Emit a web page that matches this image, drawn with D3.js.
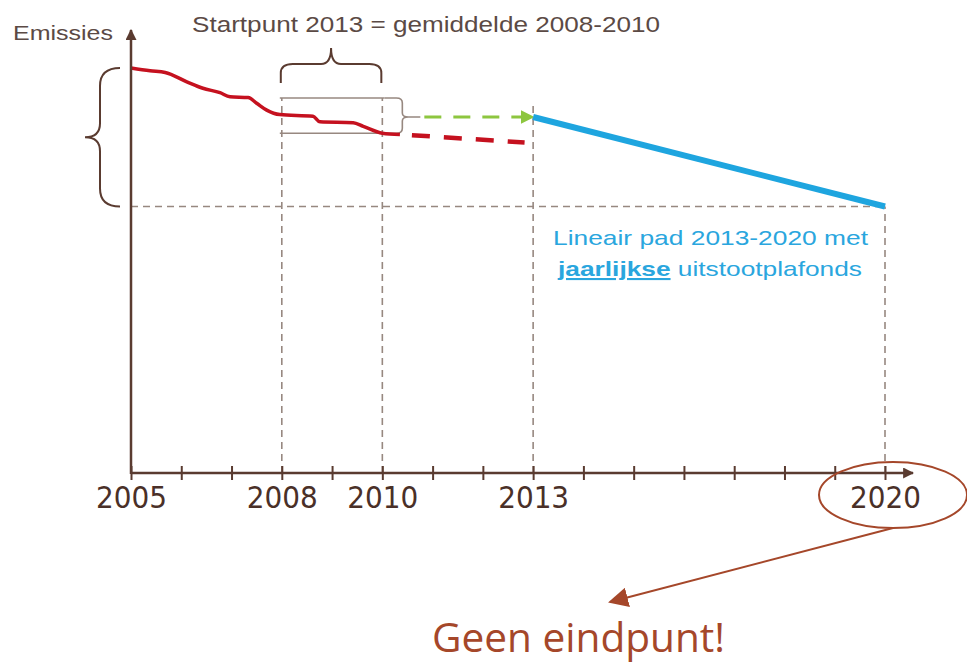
<!DOCTYPE html>
<html>
<head>
<meta charset="utf-8">
<script src="https://cdn.jsdelivr.net/npm/d3@7"></script>
<style>
	body { margin: 0; background: #fff; }
	svg { display: block; }
</style>
</head>
<body>
<div id="chart"></div>
<script>
// Data (arbitrary emission index, 2005 = 100)
const tickYears = d3.range(2005, 2021);
const labelYears = [2005, 2008, 2010, 2013, 2020];

const histYears = [2005, 2005.38, 2005.68, 2006.11, 2006.43, 2006.77, 2006.97, 2007.33, 2007.5, 2007.7, 2007.96, 2008.62, 2008.76, 2009.42, 2009.62, 2010, 2010.35];
const histValues = [100, 99.3, 98.9, 96.6, 95.0, 93.9, 92.9, 92.7, 91.3, 89.6, 88.5, 88.1, 86.7, 86.5, 85.6, 83.9, 83.6];

const trendYears = [2010.35, 2012.83];
const trendValues = [83.6, 81.6];

const avgBoxYears = [2008, 2010];
const avgBoxValues = [83.9, 92.6];

const capYears = [2013, 2020];
const capValues = [87.9, 65.8];

// Measurements
const width = 967;
const height = 665;
const axisY = 473;

const svg = d3
	.select('#chart')
	.append('svg')
	.attr('width', width)
	.attr('height', height);

// Scales
const xscale = d3.scaleLinear().domain([2005, 2020]).range([131, 885]);
const yscale = d3.scaleLinear().domain([0, 100]).range([axisY, 68]);

const brown = '#5a3b30';
const grey = '#978880';
const rust = '#a5472a';

// Markers
const defs = svg.append('defs');
const marker = (id, color, size) => {
	defs
		.append('marker')
		.attr('id', id)
		.attr('viewBox', '0 0 10 10')
		.attr('refX', 9)
		.attr('refY', 5)
		.attr('markerWidth', size)
		.attr('markerHeight', size)
		.attr('markerUnits', 'userSpaceOnUse')
		.attr('orient', 'auto')
		.append('path')
		.attr('d', 'M0,0 L10,5 L0,10 Z')
		.attr('fill', color);
};
marker('arrowBrown', brown, 11);
marker('arrowGreen', '#8dc63f', 14);
marker('arrowRust', rust, 20);

// Dashed guides
const guide = (x1, y1, x2, y2) =>
	svg
		.append('line')
		.attr('x1', x1)
		.attr('y1', y1)
		.attr('x2', x2)
		.attr('y2', y2)
		.attr('stroke', grey)
		.attr('stroke-width', 1.6)
		.attr('stroke-dasharray', '7,5');

guide(xscale(2005), yscale(capValues[1]), xscale(2020), yscale(capValues[1]));
avgBoxYears.forEach((yr) => guide(xscale(yr), axisY, xscale(yr), yscale(avgBoxValues[1])));
guide(xscale(2013), axisY, xscale(2013), yscale(capValues[0]) - 12);
guide(xscale(2020), axisY, xscale(2020), yscale(capValues[1]));

// Average box (top and bottom lines)
avgBoxValues.forEach((v) =>
	svg
		.append('line')
		.attr('x1', xscale(avgBoxYears[0]) - 2)
		.attr('x2', xscale(avgBoxYears[1]) + 2)
		.attr('y1', yscale(v))
		.attr('y2', yscale(v))
		.attr('stroke', grey)
		.attr('stroke-width', 1.6)
);

// Braces
const bx = xscale(2005);
const bTop = yscale(100);
const bBot = yscale(capValues[1]);
const bMid = (bTop + bBot) / 2;
svg
	.append('path')
	.attr(
		'd',
		`M${bx - 11},${bTop} Q${bx - 31},${bTop} ${bx - 31},${bTop + 18} L${bx - 31},${bMid - 14} Q${bx - 31},${bMid} ${bx - 46},${bMid} ` +
			`Q${bx - 31},${bMid} ${bx - 31},${bMid + 14} L${bx - 31},${bBot - 18} Q${bx - 31},${bBot} ${bx - 11},${bBot}`
	)
	.attr('fill', 'none')
	.attr('stroke', brown)
	.attr('stroke-width', 2);

const tx1 = xscale(2008) - 1;
const tx2 = xscale(2010) - 1;
const tMid = (tx1 + tx2) / 2;
svg
	.append('path')
	.attr(
		'd',
		`M${tx1},83 L${tx1},73 Q${tx1},64 ${tx1 + 12},64 L${tMid - 10},64 Q${tMid},64 ${tMid},48 ` +
			`Q${tMid},64 ${tMid + 10},64 L${tx2 - 12},64 Q${tx2},64 ${tx2},73 L${tx2},83`
	)
	.attr('fill', 'none')
	.attr('stroke', brown)
	.attr('stroke-width', 2);

const rx = xscale(2010) + 2;
const rTop = yscale(avgBoxValues[1]);
const rBot = yscale(avgBoxValues[0]);
const rMid = yscale(capValues[0]);
svg
	.append('path')
	.attr(
		'd',
		`M${rx},${rTop} L${rx + 12},${rTop} Q${rx + 18},${rTop} ${rx + 18},${rTop + 5} L${rx + 18},${rMid - 4} Q${rx + 18},${rMid} ${rx + 24},${rMid} L${rx + 36},${rMid} ` +
			`M${rx + 24},${rMid} Q${rx + 18},${rMid} ${rx + 18},${rMid + 4} L${rx + 18},${rBot - 5} Q${rx + 18},${rBot} ${rx + 12},${rBot} L${rx},${rBot}`
	)
	.attr('fill', 'none')
	.attr('stroke', grey)
	.attr('stroke-width', 1.6);

// Green carry-over arrow
svg
	.append('line')
	.attr('x1', rx + 40)
	.attr('y1', yscale(capValues[0]))
	.attr('x2', xscale(2013))
	.attr('y2', yscale(capValues[0]))
	.attr('stroke', '#8dc63f')
	.attr('stroke-width', 3)
	.attr('stroke-dasharray', '17,12')
	.attr('marker-end', 'url(#arrowGreen)');

// Lines
const line = d3
	.line()
	.x((d) => xscale(d[0]))
	.y((d) => yscale(d[1]));

svg
	.append('path')
	.datum(histYears.map((yr, i) => [yr, histValues[i]]))
	.attr('d', line.curve(d3.curveMonotoneX))
	.attr('fill', 'none')
	.attr('stroke', '#c5111f')
	.attr('stroke-width', 3.5)
	.attr('stroke-linejoin', 'round');

svg
	.append('path')
	.datum(trendYears.map((yr, i) => [yr, trendValues[i]]))
	.attr('d', line.curve(d3.curveLinear))
	.attr('fill', 'none')
	.attr('stroke', '#c5111f')
	.attr('stroke-width', 4.5)
	.attr('stroke-dasharray', '18,14')
	.attr('stroke-dashoffset', -12);

svg
	.append('path')
	.datum(capYears.map((yr, i) => [yr, capValues[i]]))
	.attr('d', line.curve(d3.curveLinear))
	.attr('fill', 'none')
	.attr('stroke', '#1ea5df')
	.attr('stroke-width', 6);

// Axes
const xAxis = d3
	.axisBottom(xscale)
	.tickValues(tickYears)
	.tickSize(7)
	.tickFormat((d) => (labelYears.includes(d) ? d : ''));

const gx = svg
	.append('g')
	.attr('transform', `translate(0, ${axisY})`)
	.call(xAxis);
gx.select('.domain').remove();
gx.selectAll('.tick line')
	.attr('y1', -7)
	.attr('y2', 7)
	.attr('stroke', brown)
	.attr('stroke-width', 2);
gx.selectAll('.tick text')
	.attr('y', 35)
	.attr('dy', 0)
	.attr('fill', '#4a3028')
	.style('font-family', '"DejaVu Sans Condensed", "DejaVu Sans", sans-serif')
	.style('font-stretch', 'condensed')
	.style('font-size', '31px');

svg
	.append('line')
	.attr('x1', xscale(2005))
	.attr('y1', axisY)
	.attr('x2', 913)
	.attr('y2', axisY)
	.attr('stroke', brown)
	.attr('stroke-width', 2.5)
	.attr('marker-end', 'url(#arrowBrown)');

svg
	.append('line')
	.attr('x1', xscale(2005))
	.attr('y1', axisY + 1)
	.attr('x2', xscale(2005))
	.attr('y2', 30)
	.attr('stroke', brown)
	.attr('stroke-width', 2.5)
	.attr('marker-end', 'url(#arrowBrown)');

// Texts
const font = '"Liberation Sans", Arial, sans-serif';
svg
	.append('text')
	.attr('x', 13)
	.attr('y', 40)
	.attr('textLength', 100)
	.attr('lengthAdjust', 'spacingAndGlyphs')
	.attr('fill', '#5b4a45')
	.style('font-family', font)
	.style('font-size', '21px')
	.text('Emissies');

svg
	.append('text')
	.attr('x', 192)
	.attr('y', 32)
	.attr('textLength', 468)
	.attr('lengthAdjust', 'spacingAndGlyphs')
	.attr('fill', '#5b4a45')
	.style('font-family', font)
	.style('font-size', '22px')
	.text('Startpunt 2013 = gemiddelde 2008-2010');

svg
	.append('text')
	.attr('x', 553)
	.attr('y', 245)
	.attr('textLength', 315)
	.attr('lengthAdjust', 'spacingAndGlyphs')
	.attr('fill', '#2aa6de')
	.style('font-family', font)
	.style('font-size', '21px')
	.text('Lineair pad 2013-2020 met');

const t2 = svg
	.append('text')
	.attr('x', 558)
	.attr('y', 276)
	.attr('textLength', 304)
	.attr('lengthAdjust', 'spacingAndGlyphs')
	.attr('fill', '#2aa6de')
	.style('font-family', font)
	.style('font-size', '21px');
t2.append('tspan')
	.attr('font-weight', 'bold')
	.style('text-decoration', 'underline')
	.text('jaarlijkse');
t2.append('tspan').text(' uitstootplafonds');

// Ellipse and callout
svg
	.append('ellipse')
	.attr('cx', xscale(2020) + 8)
	.attr('cy', 495)
	.attr('rx', 74)
	.attr('ry', 33)
	.attr('fill', 'none')
	.attr('stroke', rust)
	.attr('stroke-width', 2);

svg
	.append('line')
	.attr('x1', xscale(2020) + 8)
	.attr('y1', 528)
	.attr('x2', 610)
	.attr('y2', 602)
	.attr('stroke', rust)
	.attr('stroke-width', 2)
	.attr('marker-end', 'url(#arrowRust)');

svg
	.append('text')
	.attr('x', 432)
	.attr('y', 652)
	.attr('textLength', 293)
	.attr('lengthAdjust', 'spacingAndGlyphs')
	.attr('fill', rust)
	.style('font-family', '"Open Sans", sans-serif')
	.style('font-size', '40px')
	.text('Geen eindpunt!');
</script>
</body>
</html>
